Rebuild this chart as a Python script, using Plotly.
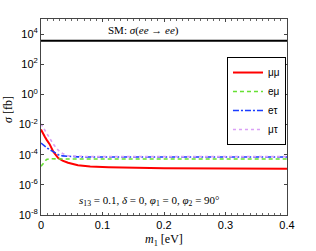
import plotly.graph_objects as go

m1 = [0, 0.003, 0.006, 0.009, 0.014, 0.02, 0.028, 0.035, 0.044, 0.06, 0.08, 0.11, 0.15, 0.2, 0.3, 0.4]
sig_mumu = [4.7e-3, 2.5e-3, 1.6e-3, 1.0e-3, 5.0e-4, 1.6e-4, 6.0e-5, 4.0e-5, 2.9e-5, 2.0e-5, 1.66e-5, 1.48e-5, 1.35e-5, 1.26e-5, 1.2e-5, 1.15e-5]
sig_emu = [1.7e-5, 2.5e-5, 3.6e-5, 4.8e-5, 5.4e-5, 5.2e-5, 5.2e-5, 5.2e-5, 5.2e-5, 5.2e-5, 5.2e-5, 5.2e-5, 5.2e-5, 5.2e-5, 5.2e-5, 5.2e-5]
sig_etau = [5.9e-4, 4.7e-4, 3.5e-4, 2.8e-4, 2.1e-4, 1.6e-4, 1.0e-4, 8.3e-5, 7.6e-5, 7.2e-5, 7.0e-5, 7.0e-5, 7.0e-5, 7.0e-5, 7.0e-5, 7.0e-5]
sig_mutau = [1.12e-2, 7.1e-3, 4.7e-3, 2.8e-3, 1.35e-3, 5.0e-4, 2.0e-4, 1.2e-4, 8.5e-5, 7.6e-5, 7.4e-5, 7.4e-5, 7.4e-5, 7.4e-5, 7.4e-5, 7.4e-5]
sm_x = [0, 0.4]
sm_sigma = [3600, 3600]
ytick_vals = [1e-8, 1e-6, 1e-4, 1e-2, 1e0, 1e2, 1e4]
ytick_text = ["10<sup>-8</sup>", "10<sup>-6</sup>", "10<sup>-4</sup>", "10<sup>-2</sup>",
              "10<sup>0</sup>", "10<sup>2</sup>", "10<sup>4</sup>"]
xtick_vals = [0, 0.1, 0.2, 0.3, 0.4]
xtick_text = ["0", "0.1", "0.2", "0.3", "0.4"]

fig = go.Figure()
fig.add_trace(go.Scatter(x=sm_x, y=sm_sigma, mode="lines", line=dict(color="black", width=2),
                         showlegend=False))
fig.add_trace(go.Scatter(x=m1, y=sig_mumu, mode="lines", name="μμ",
                         line=dict(color="#ff0000", width=2)))
fig.add_trace(go.Scatter(x=m1, y=sig_emu, mode="lines", name="eμ",
                         line=dict(color="#66e033", width=1.6, dash="4px,3px")))
fig.add_trace(go.Scatter(x=m1, y=sig_etau, mode="lines", name="eτ",
                         line=dict(color="#1a3cff", width=1.6, dash="6px,2px,2px,2px")))
fig.add_trace(go.Scatter(x=m1, y=sig_mutau, mode="lines", name="μτ",
                         line=dict(color="#d9a0f5", width=1.6, dash="dot")))

axis_common = dict(showline=True, linecolor="#444", linewidth=1, mirror="ticks",
                   ticks="inside", ticklen=3, tickcolor="#444", showgrid=False,
                   zeroline=False, tickfont=dict(family="Liberation Sans", size=11, color="black"))

fig.update_xaxes(range=[0, 0.4], tickvals=xtick_vals, ticktext=xtick_text,
                 minor=dict(ticks="inside", ticklen=2, dtick=0.01, tickcolor="#666"),
                 **axis_common)
fig.update_yaxes(type="log", range=[-8, 5], tickvals=ytick_vals, ticktext=ytick_text,
                 **axis_common)

fig.add_annotation(x=0.415, y=0.939, xref="paper", yref="paper", showarrow=False,
                   xanchor="center", yanchor="middle",
                   text="SM: <i>σ</i>(<i>ee</i> → <i>ee</i>)",
                   font=dict(family="Liberation Serif", size=11, color="black"))
fig.add_annotation(x=0.44, y=0.073, xref="paper", yref="paper", showarrow=False,
                   xanchor="center", yanchor="middle",
                   text="<i>s</i><sub>13</sub> = 0.1, <i>δ</i> = 0, <i>φ</i><sub>1</sub> = 0, <i>φ</i><sub>2</sub> = 90°",
                   font=dict(family="Liberation Serif", size=11, color="black"))
fig.add_annotation(x=0.5, y=-0.128, xref="paper", yref="paper", showarrow=False,
                   xanchor="center", yanchor="middle",
                   text="<i>m</i><sub>1</sub> [eV]",
                   font=dict(family="Liberation Serif", size=12, color="black"))
fig.add_annotation(x=-0.134, y=0.536, xref="paper", yref="paper", showarrow=False,
                   xanchor="center", yanchor="middle", textangle=-90,
                   text="<i>σ</i> [fb]",
                   font=dict(family="Liberation Serif", size=12, color="black"))

fig.update_layout(
    width=316, height=251,
    margin=dict(l=41, r=29, t=19, b=36),
    paper_bgcolor="white", plot_bgcolor="white",
    legend=dict(x=0.756, y=0.806, xanchor="left", yanchor="top",
                bordercolor="black", borderwidth=1, bgcolor="white",
                font=dict(family="Liberation Sans", size=10, color="black"),
                itemwidth=30, tracegroupgap=0),
)

# remove the browser's default 8px body margin so the figure fills the window exactly
fig.write_html("out.html",
               config={"displayModeBar": False},
               post_script="document.body.style.margin='0';document.body.style.overflow='hidden';")
